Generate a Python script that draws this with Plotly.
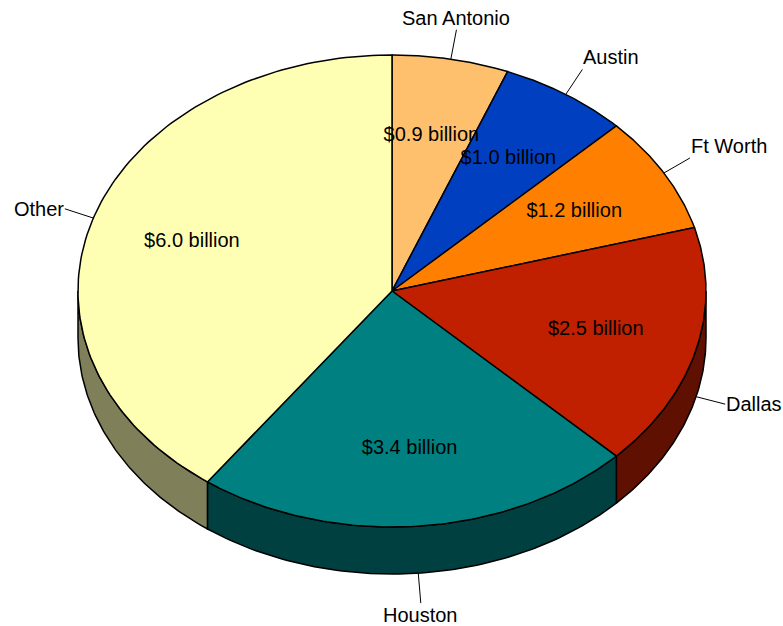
import numpy as np
import plotly.graph_objects as go

# Revenue by city, $ billion (clockwise from 12 o'clock)
cities = ["San Antonio", "Austin", "Ft Worth", "Dallas", "Houston", "Other"]
revenue = [0.9, 1.0, 1.2, 2.5, 3.4, 6.0]
top_colors = ["#FFC06E", "#0040C0", "#FF8000", "#C02000", "#008080", "#FFFFB4"]

W, H = 783, 626
CX, CY = 392, 291      # centre of the top face
RX, RY = 314, 236      # radii of the top face
DEPTH = 47             # thickness of the pie
LABEL_R = 0.67         # inside labels, fraction of radius
LEADER = 30            # leader line length
FONT = dict(family="Liberation Sans, Arial, sans-serif", size=20, color="black")


def ellipse(angles, dy=0.0):
    """Points on the pie rim; angles in degrees clockwise from 12 o'clock."""
    rad = np.radians(angles)
    return CX + RX * np.sin(rad), CY - RY * np.cos(rad) + dy


def darker(hex_color, k=0.5):
    r, g, b = (int(hex_color[i:i + 2], 16) for i in (1, 3, 5))
    return "#%02X%02X%02X" % (int(r * k), int(g * k), int(b * k))


total = sum(revenue)
bounds = np.concatenate([[0], np.cumsum(revenue)]) / total * 360

fig = go.Figure()

# side walls (only the front half is visible)
for i, col in enumerate(top_colors):
    lo, hi = max(bounds[i], 90), min(bounds[i + 1], 270)
    if lo >= hi:
        continue
    arc = np.linspace(lo, hi, 80)
    xt, yt = ellipse(arc)
    xb, yb = ellipse(arc[::-1], DEPTH)
    xs = np.concatenate([xt, xb, xt[:1]])
    ys = np.concatenate([yt, yb, yt[:1]])
    fig.add_trace(go.Scatter(
        x=xs, y=ys, mode="lines", fill="toself", fillcolor=darker(col),
        line=dict(color="black", width=1.5), hoverinfo="skip",
    ))

# top faces
for i, col in enumerate(top_colors):
    arc = np.linspace(bounds[i], bounds[i + 1], 120)
    xa, ya = ellipse(arc)
    xs = np.concatenate([[CX], xa, [CX]])
    ys = np.concatenate([[CY], ya, [CY]])
    fig.add_trace(go.Scatter(
        x=xs, y=ys, mode="lines", fill="toself", fillcolor=col,
        line=dict(color="black", width=1.5), hoverinfo="skip",
    ))

mids = (bounds[:-1] + bounds[1:]) / 2

# value labels inside the slices
lx = CX + RX * LABEL_R * np.sin(np.radians(mids))
ly = CY - RY * LABEL_R * np.cos(np.radians(mids))
fig.add_trace(go.Scatter(
    x=lx, y=ly, mode="text", text=[f"${v:.1f} billion" for v in revenue],
    textfont=FONT, hoverinfo="skip",
))

# category labels with leader lines
for name, a in zip(cities, mids):
    ux, uy = np.sin(np.radians(a)), -np.cos(np.radians(a))
    drop = DEPTH if 90 < a < 270 else 0
    x0, y0 = ellipse(a, drop)
    x1, y1 = x0 + LEADER * ux, y0 + LEADER * uy
    fig.add_trace(go.Scatter(
        x=[x0, x1], y=[y0, y1], mode="lines",
        line=dict(color="black", width=1), hoverinfo="skip",
    ))
    xanchor = "left" if ux > 0.3 else "right" if ux < -0.3 else "center"
    yanchor = "bottom" if uy < -0.4 else "top" if uy > 0.4 else "middle"
    fig.add_annotation(
        x=x1, y=y1, text=name, showarrow=False, font=FONT,
        xanchor=xanchor, yanchor=yanchor, borderpad=0,
    )

# axes map one unit to one window pixel
fig.update_layout(
    width=W, height=H, margin=dict(l=0, r=0, t=0, b=0),
    showlegend=False, paper_bgcolor="white", plot_bgcolor="white",
    xaxis=dict(range=[0, W], visible=False, fixedrange=True),
    yaxis=dict(range=[H, 0], visible=False, fixedrange=True),
)

fig.write_html(
    "out.html",
    config={"displayModeBar": False, "staticPlot": True},
    post_script="document.body.style.margin='0';document.body.style.overflow='hidden';",
)
